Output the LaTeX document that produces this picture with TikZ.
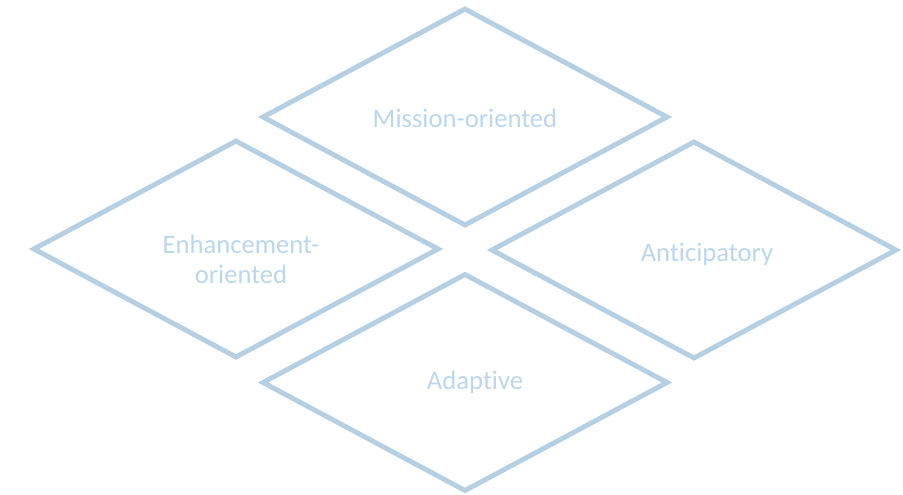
\documentclass[tikz,border=0pt]{standalone}
\usepackage{fontspec}
\setmainfont{Carlito}[Ligatures=NoCommon]
\usetikzlibrary{shapes.geometric}
\definecolor{rimblue}{HTML}{B7CFE2}
\definecolor{wordblue}{HTML}{BDD6EB}

\begin{document}
\begin{tikzpicture}[x=0.75pt, y=-0.75pt,
	quad/.style={diamond, draw=rimblue, line width=3.7pt, inner sep=0pt,
		minimum width=406*0.75pt, minimum height=218*0.75pt},
	word/.style={text=wordblue, font=\fontsize{20}{22.5}\selectfont, align=center, inner sep=0pt}]
			%%%%% START %%%%%
			
			\useasboundingbox (0, 0) rectangle (903, 495);
			
			\node[quad] (mission) at (465, 117) {};
			\node[quad] (enhance) at (236, 249) {};
			\node[quad] (anticip) at (694, 250) {};
			\node[quad] (adapt) at (465, 382.5) {};
			
			\node[word] (missiontxt) at ([shift={(0, 1)}]mission.center) {Mission-oriented};
			\node[word] (enhancetxt) at ([shift={(5, 10)}]enhance.center) {Enhancement-\\oriented};
			\node[word] (anticiptxt) at ([shift={(13, 4)}]anticip.center) {Anticipatory};
			\node[word] (adapttxt) at ([shift={(10, 0)}]adapt.center) {Adaptive};
			
			%%%%% END %%%%%
\end{tikzpicture}
\end{document}
